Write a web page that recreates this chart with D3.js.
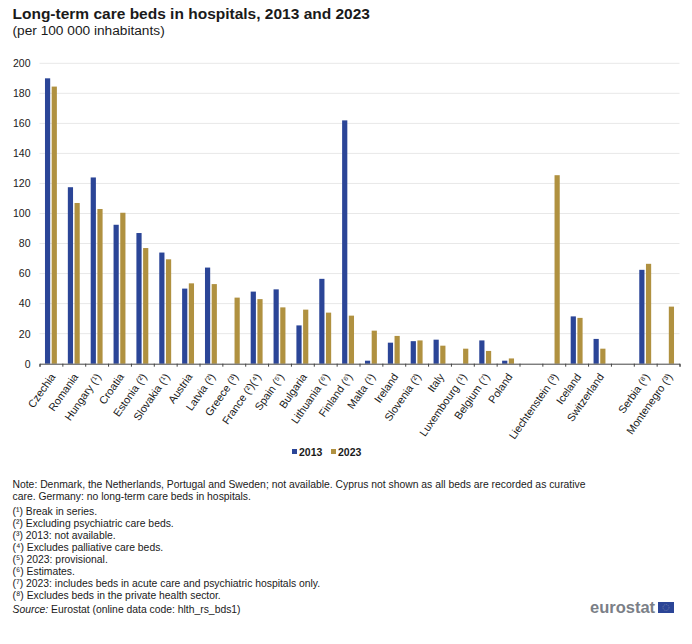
<!DOCTYPE html>
<html>
<head>
<meta charset="utf-8">
<script src="https://cdn.jsdelivr.net/npm/d3@7"></script>
<style>
  html, body { margin: 0; padding: 0; background: #fff; }
  text { font-family: "Liberation Sans", Arial, sans-serif; fill: #1a1a1a; }
</style>
</head>
<body>
<div id="chart"></div>
<script>
// empty strings are the gaps between EU, EFTA and candidate countries
const categories = ["Czechia", "Romania", "Hungary (¹)", "Croatia", "Estonia (²)", "Slovakia (¹)", "Austria", "Latvia (²)", "Greece (³)", "France (²)(⁴)", "Spain (⁵)", "Bulgaria", "Lithuania (⁶)", "Finland (⁶)", "Malta (¹)", "Ireland", "Slovenia (²)", "Italy", "Luxembourg (¹)", "Belgium (⁷)", "Poland", "", "Liechtenstein (³)", "Iceland", "Switzerland", "", "Serbia (⁸)", "Montenegro (³)"];
const values2013 = [190, 117.5, 124, 92.5, 87, 74, 50, 64, null, 48, 49.5, 25.5, 56.5, 162, 2, 14, 15, 16, null, 15.5, 2, null, null, 31.5, 16.5, null, 62.5, null];
const values2023 = [184.5, 107, 103, 100.5, 77, 69.5, 53.5, 53, 44, 43, 37.5, 36, 34, 32, 22, 18.5, 15.5, 12, 10, 8.5, 3.5, null, 125.5, 30.5, 10, null, 66.5, 38];
const yTicks = [0, 20, 40, 60, 80, 100, 120, 140, 160, 180, 200];
const noteLines = [
  "Note: Denmark, the Netherlands, Portugal and Sweden; not available. Cyprus not shown as all beds are recorded as curative",
  "care. Germany: no long-term care beds in hospitals."
];
const footnotes = [
  "(¹) Break in series.",
  "(²) Excluding psychiatric care beds.",
  "(³) 2013: not available.",
  "(⁴) Excludes palliative care beds.",
  "(⁵) 2023: provisional.",
  "(⁶) Estimates.",
  "(⁷) 2023: includes beds in acute care and psychiatric hospitals only.",
  "(⁸) Excludes beds in the private health sector."
];

const width = 692, height = 644;
const margin = { top: 63.3, right: 12.5, bottom: 280.3, left: 39.5 };
const blue = "#2b4597", gold = "#b09140";

const svg = d3.select("#chart").append("svg")
  .attr("width", width)
  .attr("height", height)
  .style("display", "block");

const x = d3.scaleBand()
  .domain(d3.range(categories.length))
  .range([margin.left, width - margin.right]);

const y = d3.scaleLinear()
  .domain([0, 200])
  .range([height - margin.bottom, margin.top]);

// slot edges, for the tick marks
const xEdge = d3.scaleLinear()
  .domain([0, categories.length])
  .range([margin.left, width - margin.right]);

// gridlines
svg.append("g")
  .selectAll("line")
  .data(yTicks.filter(d => d > 0))
  .enter()
  .append("line")
  .attr("x1", margin.left)
  .attr("x2", width - margin.right)
  .attr("y1", d => y(d))
  .attr("y2", d => y(d))
  .attr("stroke", "#e8e8e8")
  .attr("stroke-width", 1);

// bars
const barW = 5.2, barGap = 1.5;
const drawBars = (vals, color, offset) => {
  svg.append("g")
    .selectAll("rect")
    .data(vals.map((v, i) => ({ v, i })).filter(d => d.v !== null))
    .enter()
    .append("rect")
    .attr("x", d => x(d.i) + x.bandwidth() / 2 + offset)
    .attr("y", d => y(d.v))
    .attr("width", barW)
    .attr("height", d => y(0) - y(d.v))
    .attr("fill", color);
};
drawBars(values2013, blue, -barW - barGap / 2);
drawBars(values2023, gold, barGap / 2);

// y axis labels
const yAxis = svg.append("g")
  .attr("transform", `translate(${margin.left}, 0)`)
  .call(d3.axisLeft(y).tickValues(yTicks).tickSize(0).tickPadding(9));
yAxis.select(".domain").remove();
yAxis.selectAll("text")
  .style("font-family", '"Liberation Sans", Arial, sans-serif')
  .style("font-size", "10.5px");

// x axis
const xAxis = svg.append("g")
  .attr("transform", `translate(0, ${y(0)})`)
  .call(d3.axisBottom(xEdge).tickValues(d3.range(categories.length + 1)).tickSize(3).tickFormat(""));
xAxis.select(".domain").attr("stroke", "#444").attr("stroke-width", 1);
xAxis.selectAll("line").attr("stroke", "#444");

svg.append("g")
  .selectAll("text")
  .data(categories)
  .enter()
  .append("text")
  .attr("transform", (d, i) => `translate(${x(i) + x.bandwidth() / 2 + 5}, ${y(0) + 13}) rotate(-55)`)
  .attr("text-anchor", "end")
  .attr("font-size", "10.8px")
  .text(d => d);

// title
svg.append("text")
  .attr("x", 12.5)
  .attr("y", 18.5)
  .attr("font-size", "15.5px")
  .attr("font-weight", "bold")
  .text("Long-term care beds in hospitals, 2013 and 2023");
svg.append("text")
  .attr("x", 12.5)
  .attr("y", 34.5)
  .attr("font-size", "13.7px")
  .text("(per 100 000 inhabitants)");

// legend
const legend = svg.append("g").attr("font-size", "10.5px").attr("font-weight", "bold");
[["2013", blue, 292], ["2023", gold, 331]].forEach(([label, color, lx]) => {
  legend.append("rect").attr("x", lx).attr("y", 449).attr("width", 5).attr("height", 5).attr("fill", color);
  legend.append("text").attr("x", lx + 7).attr("y", 455.5).text(label);
});

// notes
const notes = svg.append("g").attr("font-size", "10.36px");
noteLines.forEach((t, i) => {
  notes.append("text").attr("x", 12.5).attr("y", 488 + i * 12).text(t);
});
footnotes.forEach((t, i) => {
  notes.append("text").attr("x", 12.5).attr("y", 514.5 + i * 12).text(t);
});
const source = notes.append("text").attr("x", 12.5).attr("y", 613);
source.append("tspan").attr("font-style", "italic").text("Source:");
source.append("tspan").text(" Eurostat (online data code: hlth_rs_bds1)");

// eurostat logo
svg.append("text")
  .attr("x", 590)
  .attr("y", 613)
  .attr("font-size", "16.5px")
  .attr("font-weight", "bold")
  .style("fill", "#7b7f87")
  .text("eurostat");
svg.append("rect")
  .attr("x", 658)
  .attr("y", 602)
  .attr("width", 16)
  .attr("height", 11)
  .attr("fill", "#2b4597");
svg.append("circle")
  .attr("cx", 666)
  .attr("cy", 607.5)
  .attr("r", 3)
  .attr("fill", "none")
  .attr("stroke", "#8b90a8")
  .attr("stroke-width", 0.7)
  .attr("stroke-dasharray", "1,1");
</script>
</body>
</html>
